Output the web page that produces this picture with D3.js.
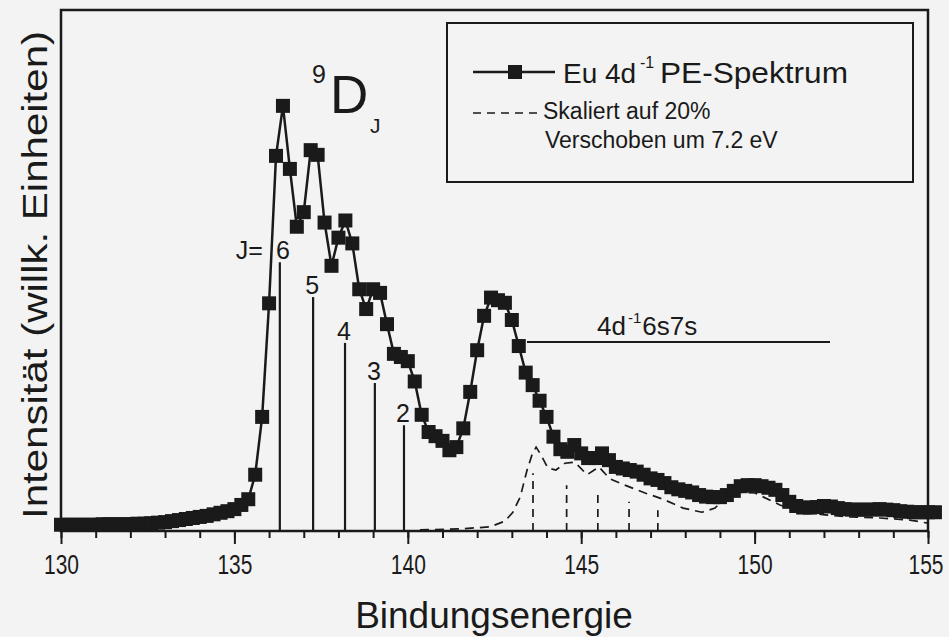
<!DOCTYPE html>
<html>
<head>
<meta charset="utf-8">
<script src="https://cdn.jsdelivr.net/npm/d3@7"></script>
<style>
body { margin: 0; background: #f3f3f3; }
svg { display: block; font-family: "Liberation Sans", Arial, Helvetica, sans-serif; }
</style>
</head>
<body>
<svg width="949" height="637"></svg>
<script>
// Eu 4d PE spectrum, [binding energy (eV), intensity (arb. units)]
var spektrum = [
  [130.0,1.2],[130.2,1.2],[130.4,1.2],[130.6,1.2],[130.8,1.2],[131.0,1.2],[131.2,1.3],[131.4,1.3],
  [131.6,1.3],[131.8,1.3],[132.0,1.3],[132.2,1.4],[132.4,1.4],[132.6,1.5],[132.8,1.6],[133.0,1.7],
  [133.2,1.9],[133.4,2.1],[133.6,2.3],[133.8,2.5],[134.0,2.7],[134.2,2.9],[134.4,3.2],[134.6,3.5],
  [134.8,3.8],[135.0,4.2],[135.2,5.0],[135.4,6.1],[135.6,10.8],[135.8,21.9],[136.0,43.7],[136.2,72.0],
  [136.4,81.6],[136.6,69.5],[136.8,58.4],[137.0,61.2],[137.2,73.1],[137.4,72.2],[137.6,59.2],[137.8,50.9],
  [138.0,56.3],[138.2,59.6],[138.4,55.2],[138.6,46.4],[138.8,42.6],[139.0,46.4],[139.2,45.7],[139.4,39.7],
  [139.6,34.0],[139.8,33.4],[140.0,32.6],[140.2,28.7],[140.4,22.3],[140.6,19.0],[140.8,18.2],[141.0,17.3],
  [141.2,15.5],[141.4,16.1],[141.6,19.7],[141.8,26.7],[142.0,34.7],[142.2,41.3],[142.4,44.8],[142.6,44.3],
  [142.8,43.8],[143.0,40.5],[143.2,35.5],[143.4,30.4],[143.6,28.0],[143.8,25.0],[144.0,21.9],[144.2,18.1],
  [144.4,15.7],[144.6,15.2],[144.8,16.5],[145.0,14.9],[145.2,14.0],[145.4,14.0],[145.6,14.9],[145.8,13.6],
  [146.0,12.3],[146.2,12.0],[146.4,11.7],[146.6,11.4],[146.8,10.8],[147.0,10.1],[147.2,9.8],[147.4,9.2],
  [147.6,8.4],[147.8,8.0],[148.0,7.7],[148.2,7.4],[148.4,6.9],[148.6,6.6],[148.8,6.5],[149.0,6.5],
  [149.2,6.9],[149.4,7.7],[149.6,8.6],[149.8,8.8],[150.0,8.8],[150.2,8.6],[150.4,8.3],[150.6,7.9],
  [150.8,6.9],[151.0,5.6],[151.2,4.8],[151.4,4.5],[151.6,4.5],[151.8,4.6],[152.0,4.8],[152.2,4.7],
  [152.4,4.4],[152.6,4.2],[152.8,4.1],[153.0,4.1],[153.2,4.1],[153.4,4.1],[153.6,4.2],[153.8,4.1],
  [154.0,4.0],[154.2,3.8],[154.4,3.7],[154.6,3.6],[154.8,3.6],[155.0,3.6],[155.2,3.6]
];

// scaled (20%) and shifted (7.2 eV) curve, dashed
var skaliert = [
  [140.35,0.2],[141.5,0.4],[142.37,0.8],[142.8,1.9],[143.03,3.6],[143.24,6.5],[143.44,11.7],[143.58,14.6],
  [143.70,16.1],[143.84,14.6],[144.04,12.1],[144.27,11.7],[144.53,13.0],[144.82,13.2],[145.17,10.8],
  [145.51,12.3],[145.83,10.0],[146.26,8.8],[146.84,7.3],[147.36,6.1],[147.94,4.4],[148.48,3.6],
  [148.86,4.4],[149.09,6.0],[149.44,7.5],[150.01,7.3],[150.73,5.0],[151.31,3.6],[152.03,3.1],
  [152.75,2.7],[153.62,2.5],[154.48,2.1],[155.0,1.5]
];

// 9D_J multiplet lines
var jLabels = ["6", "5", "4", "3", "2"];
var jEnergie = [136.31, 137.27, 138.19, 139.05, 139.89];
var jHoehe = [51.6, 44.9, 36.1, 28.4, 20.3];

// same lines, scaled and shifted
var jEnergieSchieb = [143.61, 144.58, 145.48, 146.38, 147.21];
var jHoeheSchieb = [11.1, 8.8, 7.3, 5.6, 4.0];

var majorTicks = [130, 135, 140, 145, 150, 155];
var minorTicks = d3.range(130, 156, 1);

var ink = "#1a1a1a";
var svg = d3.select("svg");

var x = d3.scaleLinear().domain([130, 155]).range([61, 928]);
var y = d3.scaleLinear().domain([0, 100]).range([531, 10]);

// axis ticks (below the axis line)
svg.append("g")
    .attr("transform", "translate(0,531)")
    .call(d3.axisBottom(x).tickValues(minorTicks).tickSize(7).tickSizeOuter(0).tickFormat(""))
    .call(function(g) { g.select(".domain").remove(); })
    .selectAll("line").attr("stroke", ink).attr("stroke-width", 2);

var xAxis = svg.append("g")
    .attr("transform", "translate(0,531)")
    .call(d3.axisBottom(x).tickValues(majorTicks).tickSize(13).tickSizeOuter(0).tickPadding(11));
xAxis.select(".domain").remove();
xAxis.selectAll("line").attr("stroke", ink).attr("stroke-width", 2);
xAxis.selectAll("text").attr("fill", ink).style("font-size", "27px")
    .style("font-family", "'Liberation Sans', Arial, sans-serif")
    .attr("textLength", 35).attr("lengthAdjust", "spacingAndGlyphs");
// last label sits against the page edge
xAxis.selectAll("text").filter(function(d) { return d == 155; })
    .attr("text-anchor", "end").attr("x", 15);

// frame
svg.append("rect")
    .attr("x", x(130)).attr("y", y(100))
    .attr("width", x(155) - x(130)).attr("height", y(0) - y(100))
    .attr("fill", "none").attr("stroke", ink).attr("stroke-width", 2.5);

// stick lines
svg.selectAll(".stick").data(jEnergie).enter().append("line")
    .attr("x1", function(d) { return x(d); }).attr("x2", function(d) { return x(d); })
    .attr("y1", y(0)).attr("y2", function(d, i) { return y(jHoehe[i]); })
    .attr("stroke", ink).attr("stroke-width", 2.2);

svg.selectAll(".stickLabel").data(jLabels).enter().append("text")
    .attr("x", function(d, i) { return x(jEnergie[i]) + (i == 0 ? 3 : -1); })
    .attr("y", function(d, i) { return y(jHoehe[i]) - 3; })
    .attr("text-anchor", "middle")
    .style("font-size", "25px").attr("fill", ink)
    .text(function(d) { return d; });

svg.append("text")
    .attr("x", x(jEnergie[0]) - 17).attr("y", y(jHoehe[0]) - 3)
    .attr("text-anchor", "end")
    .style("font-size", "25px").attr("fill", ink)
    .text("J=");

// dashed sticks
svg.selectAll(".stickS").data(jEnergieSchieb).enter().append("line")
    .attr("x1", function(d) { return x(d); }).attr("x2", function(d) { return x(d); })
    .attr("y1", y(0)).attr("y2", function(d, i) { return y(jHoeheSchieb[i]); })
    .attr("stroke", ink).attr("stroke-width", 1.7).attr("stroke-dasharray", "8,6");

// dashed curve
var line = d3.line()
    .x(function(d) { return x(d[0]); })
    .y(function(d) { return y(d[1]); });

svg.append("path")
    .datum(skaliert)
    .attr("d", line)
    .attr("fill", "none").attr("stroke", ink).attr("stroke-width", 1.7)
    .attr("stroke-dasharray", "9,6");

// main spectrum
svg.append("path")
    .datum(spektrum)
    .attr("d", line)
    .attr("fill", "none").attr("stroke", ink).attr("stroke-width", 2.5);

svg.selectAll(".pt").data(spektrum).enter().append("rect")
    .attr("x", function(d) { return x(d[0]) - 7; })
    .attr("y", function(d) { return y(d[1]) - 7; })
    .attr("width", 14).attr("height", 14)
    .attr("fill", ink);

// 4d-1 6s7s label and bar
svg.append("line")
    .attr("x1", 527).attr("x2", 830).attr("y1", 342).attr("y2", 342)
    .attr("stroke", ink).attr("stroke-width", 2);
var t1 = svg.append("text").attr("x", 597).attr("y", 335)
    .style("font-size", "26px").attr("fill", ink);
t1.append("tspan").text("4d");
t1.append("tspan").attr("dy", -12).attr("dx", 2).style("font-size", "15px").text("-1");
t1.append("tspan").attr("dy", 12).attr("dx", 1).text("6s7s");

// 9D_J
var t2 = svg.append("g").attr("fill", ink);
t2.append("text").attr("x", 312).attr("y", 83).style("font-size", "25px").text("9");
t2.append("text").attr("x", 330).attr("y", 113).style("font-size", "53px").text("D");
t2.append("text").attr("x", 370).attr("y", 133).style("font-size", "21px").text("J");

// legend
var leg = svg.append("g");
leg.append("rect")
    .attr("x", 447).attr("y", 23).attr("width", 466).attr("height", 159)
    .attr("fill", "none").attr("stroke", ink).attr("stroke-width", 2);
leg.append("line").attr("x1", 473).attr("x2", 555).attr("y1", 72).attr("y2", 72)
    .attr("stroke", ink).attr("stroke-width", 2.5);
leg.append("rect").attr("x", 508).attr("y", 65).attr("width", 14).attr("height", 14).attr("fill", ink);
leg.append("text").attr("x", 563).attr("y", 83).style("font-size", "28px").attr("fill", ink)
    .text("Eu 4d");
leg.append("text").attr("x", 640).attr("y", 68).style("font-size", "16px").attr("fill", ink)
    .text("-1");
leg.append("text").attr("x", 660).attr("y", 83).style("font-size", "29px").attr("fill", ink)
    .attr("textLength", 188).attr("lengthAdjust", "spacingAndGlyphs")
    .text("PE-Spektrum");
leg.append("line").attr("x1", 473).attr("x2", 538).attr("y1", 113).attr("y2", 113)
    .attr("stroke", ink).attr("stroke-width", 1.7).attr("stroke-dasharray", "8,6");
leg.append("text").attr("x", 543).attr("y", 119).style("font-size", "23px").attr("fill", ink)
    .text("Skaliert auf 20%");
leg.append("text").attr("x", 545).attr("y", 148).style("font-size", "23px").attr("fill", ink)
    .text("Verschoben um 7.2 eV");

// axis titles
svg.append("text")
    .attr("x", 494).attr("y", 628)
    .attr("text-anchor", "middle")
    .style("font-size", "37px").attr("fill", ink)
    .text("Bindungsenergie");

svg.append("text")
    .attr("transform", "translate(47,275) rotate(-90)")
    .attr("text-anchor", "middle")
    .style("font-size", "35px").attr("fill", ink)
    .attr("textLength", 488).attr("lengthAdjust", "spacingAndGlyphs")
    .text("Intensität (willk. Einheiten)");
</script>
</body>
</html>
